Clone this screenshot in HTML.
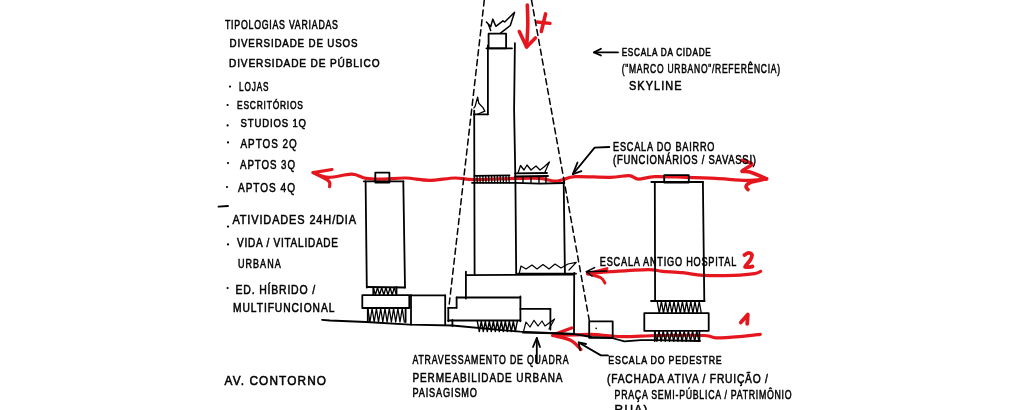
<!DOCTYPE html>
<html><head><meta charset="utf-8"><style>
html,body{margin:0;padding:0;background:#fff;}
svg{display:block;}
text{font-family:"Liberation Sans",sans-serif;}
</style></head><body>
<svg width="1024" height="410" viewBox="0 0 1024 410">
<rect width="1024" height="410" fill="#fff"/>
<text transform="translate(225.0,28.9) scale(0.726,1)" x="0" y="0" font-size="12.1" font-weight="normal" fill="#000" stroke="#000" stroke-width="0.55" textLength="155.6" lengthAdjust="spacing">TIPOLOGIAS VARIADAS</text>
<text transform="translate(229.5,46.9) scale(0.848,1)" x="0" y="0" font-size="11.5" font-weight="normal" fill="#000" stroke="#000" stroke-width="0.55" textLength="151.0" lengthAdjust="spacing">DIVERSIDADE DE USOS</text>
<text transform="translate(229.0,66.7) scale(0.878,1)" x="0" y="0" font-size="11.5" font-weight="normal" fill="#000" stroke="#000" stroke-width="0.55" textLength="171.4" lengthAdjust="spacing">DIVERSIDADE DE PÚBLICO</text>
<circle cx="230" cy="86.6" r="1.1" fill="#000"/>
<text transform="translate(239.0,91.0) scale(0.677,1)" x="0" y="0" font-size="12.1" font-weight="normal" fill="#000" stroke="#000" stroke-width="0.55" textLength="43.6" lengthAdjust="spacing">LOJAS</text>
<circle cx="227.6" cy="105" r="1.1" fill="#000"/>
<text transform="translate(237.0,108.7) scale(0.733,1)" x="0" y="0" font-size="11.5" font-weight="normal" fill="#000" stroke="#000" stroke-width="0.55" textLength="90.0" lengthAdjust="spacing">ESCRITÓRIOS</text>
<circle cx="227.6" cy="125.4" r="1.1" fill="#000"/>
<text transform="translate(240.5,126.5) scale(0.828,1)" x="0" y="0" font-size="11.5" font-weight="normal" fill="#000" stroke="#000" stroke-width="0.55" textLength="79.1" lengthAdjust="spacing">STUDIOS 1Q</text>
<circle cx="228" cy="142.4" r="1.1" fill="#000"/>
<text transform="translate(240.5,147.7) scale(0.774,1)" x="0" y="0" font-size="12.8" font-weight="normal" fill="#000" stroke="#000" stroke-width="0.55" textLength="72.5" lengthAdjust="spacing">APTOS 2Q</text>
<circle cx="228" cy="163" r="1.1" fill="#000"/>
<text transform="translate(240.0,169.0) scale(0.759,1)" x="0" y="0" font-size="12.8" font-weight="normal" fill="#000" stroke="#000" stroke-width="0.55" textLength="72.5" lengthAdjust="spacing">APTOS 3Q</text>
<circle cx="227" cy="187" r="1.1" fill="#000"/>
<text transform="translate(238.0,191.8) scale(0.786,1)" x="0" y="0" font-size="12.8" font-weight="normal" fill="#000" stroke="#000" stroke-width="0.55" textLength="72.5" lengthAdjust="spacing">APTOS 4Q</text>
<path d="M218.5,206.6 L228.0,206.0" fill="none" stroke="#000" stroke-width="1.8" stroke-linecap="round" stroke-linejoin="round" />
<circle cx="228" cy="226.6" r="1.1" fill="#000"/>
<text transform="translate(232.4,223.7) scale(0.818,1)" x="0" y="0" font-size="13.4" font-weight="normal" fill="#000" stroke="#000" stroke-width="0.55" textLength="151.2" lengthAdjust="spacing">ATIVIDADES 24H/DIA</text>
<circle cx="228" cy="244.4" r="1.1" fill="#000"/>
<text transform="translate(237.0,247.4) scale(0.828,1)" x="0" y="0" font-size="12.1" font-weight="normal" fill="#000" stroke="#000" stroke-width="0.55" textLength="122.0" lengthAdjust="spacing">VIDA / VITALIDADE</text>
<text transform="translate(238.0,267.7) scale(0.745,1)" x="0" y="0" font-size="12.1" font-weight="normal" fill="#000" stroke="#000" stroke-width="0.55" textLength="57.3" lengthAdjust="spacing">URBANA</text>
<circle cx="227.6" cy="288" r="1.1" fill="#000"/>
<text transform="translate(235.6,293.9) scale(0.819,1)" x="0" y="0" font-size="12.8" font-weight="normal" fill="#000" stroke="#000" stroke-width="0.55" textLength="97.0" lengthAdjust="spacing">ED. HÍBRIDO /</text>
<text transform="translate(233.0,312.0) scale(0.847,1)" x="0" y="0" font-size="12.1" font-weight="normal" fill="#000" stroke="#000" stroke-width="0.55" textLength="119.7" lengthAdjust="spacing">MULTIFUNCIONAL</text>
<text transform="translate(224.6,384.5) scale(0.925,1)" x="0" y="0" font-size="12.8" font-weight="normal" fill="#000" stroke="#000" stroke-width="0.55" textLength="109.7" lengthAdjust="spacing">AV. CONTORNO</text>
<text transform="translate(412.4,363.9) scale(0.725,1)" x="0" y="0" font-size="12.1" font-weight="normal" fill="#000" stroke="#000" stroke-width="0.55" textLength="215.4" lengthAdjust="spacing">ATRAVESSAMENTO DE QUADRA</text>
<text transform="translate(412.4,381.6) scale(0.780,1)" x="0" y="0" font-size="12.8" font-weight="normal" fill="#000" stroke="#000" stroke-width="0.55" textLength="192.4" lengthAdjust="spacing">PERMEABILIDADE URBANA</text>
<text transform="translate(412.4,396.7) scale(0.757,1)" x="0" y="0" font-size="12.1" font-weight="normal" fill="#000" stroke="#000" stroke-width="0.55" textLength="85.3" lengthAdjust="spacing">PAISAGISMO</text>
<text transform="translate(621.7,55.8) scale(0.759,1)" x="0" y="0" font-size="10.8" font-weight="normal" fill="#000" stroke="#000" stroke-width="0.55" textLength="117.3" lengthAdjust="spacing">ESCALA DA CIDADE</text>
<text transform="translate(621.7,73.0) scale(0.665,1)" x="0" y="0" font-size="12.8" font-weight="normal" fill="#000" stroke="#000" stroke-width="0.55" textLength="238.2" lengthAdjust="spacing">("MARCO URBANO"/REFERÊNCIA)</text>
<text transform="translate(629.0,90.3) scale(0.816,1)" x="0" y="0" font-size="13.4" font-weight="normal" fill="#000" stroke="#000" stroke-width="0.55" textLength="64.3" lengthAdjust="spacing">SKYLINE</text>
<text transform="translate(613.0,150.7) scale(0.754,1)" x="0" y="0" font-size="12.1" font-weight="normal" fill="#000" stroke="#000" stroke-width="0.55" textLength="134.5" lengthAdjust="spacing">ESCALA DO BAIRRO</text>
<text transform="translate(613.0,163.9) scale(0.782,1)" x="0" y="0" font-size="12.1" font-weight="normal" fill="#000" stroke="#000" stroke-width="0.55" textLength="182.8" lengthAdjust="spacing">(FUNCIONÁRIOS / SAVASSI)</text>
<text transform="translate(599.8,266.2) scale(0.758,1)" x="0" y="0" font-size="12.1" font-weight="normal" fill="#000" stroke="#000" stroke-width="0.55" textLength="180.1" lengthAdjust="spacing">ESCALA ANTIGO HOSPITAL</text>
<text transform="translate(608.3,363.7) scale(0.765,1)" x="0" y="0" font-size="11.5" font-weight="normal" fill="#000" stroke="#000" stroke-width="0.55" textLength="148.2" lengthAdjust="spacing">ESCALA DO PEDESTRE</text>
<text transform="translate(607.0,383.4) scale(0.802,1)" x="0" y="0" font-size="12.8" font-weight="normal" fill="#000" stroke="#000" stroke-width="0.55" textLength="200.7" lengthAdjust="spacing">(FACHADA ATIVA / FRUIÇÃO /</text>
<text transform="translate(614.6,399.1) scale(0.688,1)" x="0" y="0" font-size="12.8" font-weight="normal" fill="#000" stroke="#000" stroke-width="0.55" textLength="257.3" lengthAdjust="spacing">PRAÇA SEMI-PÚBLICA / PATRIMÔNIO</text>
<text transform="translate(614.6,414.0) scale(0.923,1)" x="0" y="0" font-size="12.8" font-weight="normal" fill="#000" stroke="#000" stroke-width="0.55" textLength="35.6" lengthAdjust="spacing">RUA)</text>
<path d="M618.0,52.4 L594.0,52.4" fill="none" stroke="#000" stroke-width="1.8" stroke-linecap="round" stroke-linejoin="round" />
<path d="M601.0,48.8 L594.0,52.4 L601.0,55.5" fill="none" stroke="#000" stroke-width="1.8" stroke-linecap="round" stroke-linejoin="round" />
<path d="M609.3,147.0 L594.6,147.6 L572.8,174.2" fill="none" stroke="#000" stroke-width="1.8" stroke-linecap="round" stroke-linejoin="round" />
<path d="M577.5,162.5 L572.8,174.2 L581.4,171.1" fill="none" stroke="#000" stroke-width="1.8" stroke-linecap="round" stroke-linejoin="round" />
<path d="M608.0,355.4 L600.9,355.4 L578.7,342.5" fill="none" stroke="#000" stroke-width="1.8" stroke-linecap="round" stroke-linejoin="round" />
<path d="M580.0,350.0 L578.7,342.5 L586.0,344.0" fill="none" stroke="#000" stroke-width="1.8" stroke-linecap="round" stroke-linejoin="round" />
<path d="M536.8,362.4 L536.8,338.0" fill="none" stroke="#000" stroke-width="1.8" stroke-linecap="round" stroke-linejoin="round" />
<path d="M533.0,347.0 L536.8,338.0 L540.0,347.0" fill="none" stroke="#000" stroke-width="1.8" stroke-linecap="round" stroke-linejoin="round" />
<path d="M484.3,0.0 L449.0,306.0" fill="none" stroke="#000" stroke-width="1.5" stroke-linecap="round" stroke-linejoin="round" stroke-dasharray="6 4"/>
<path d="M531.5,0.0 L589.3,320.7" fill="none" stroke="#000" stroke-width="1.5" stroke-linecap="round" stroke-linejoin="round" stroke-dasharray="6 4"/>
<path d="M365.6,181.3 L366.8,287.5" fill="none" stroke="#000" stroke-width="1.8" stroke-linecap="round" stroke-linejoin="round" />
<path d="M403.3,181.3 L405.0,287.5" fill="none" stroke="#000" stroke-width="1.8" stroke-linecap="round" stroke-linejoin="round" />
<path d="M363.8,181.3 L403.5,181.3" fill="none" stroke="#000" stroke-width="1.8" stroke-linecap="round" stroke-linejoin="round" />
<path d="M375.3,172.6 L389.4,172.6 L389.4,182.5 L375.3,182.5 L375.3,172.6" fill="none" stroke="#000" stroke-width="1.8" stroke-linecap="round" stroke-linejoin="round" />
<path d="M367.0,287.0 L405.0,287.5" fill="none" stroke="#000" stroke-width="1.8" stroke-linecap="round" stroke-linejoin="round" />
<path d="M373.3,287.0 L373.3,295.0" fill="none" stroke="#000" stroke-width="1.8" stroke-linecap="round" stroke-linejoin="round" />
<path d="M396.5,287.0 L396.5,295.0" fill="none" stroke="#000" stroke-width="1.8" stroke-linecap="round" stroke-linejoin="round" />
<path d="M373.3,287.5 L375.4,295.0 L377.5,287.5 L379.6,295.0 L381.7,287.5 L383.8,295.0 L385.9,287.5 L388.0,295.0 L390.1,287.5 L392.2,295.0 L394.3,287.5 L396.4,295.0" fill="none" stroke="#000" stroke-width="1.3" stroke-linecap="round" stroke-linejoin="round" />
<path d="M362.3,295.2 L409.3,295.2 L409.3,308.0 L362.3,308.0 L362.3,295.2" fill="none" stroke="#000" stroke-width="1.8" stroke-linecap="round" stroke-linejoin="round" />
<path d="M367.8,308.5 L369.9,322.0 L372.1,308.5 L374.2,322.0 L376.4,308.5 L378.5,322.0 L380.7,308.5 L382.8,322.0 L385.0,308.5 L387.1,322.0 L389.3,308.5 L391.4,322.0 L393.6,308.5 L395.7,322.0 L397.9,308.5 L400.0,322.0 L402.2,308.5 L404.3,322.0" fill="none" stroke="#000" stroke-width="1.3" stroke-linecap="round" stroke-linejoin="round" />
<path d="M367.8,308.0 L367.8,322.0" fill="none" stroke="#000" stroke-width="1.8" stroke-linecap="round" stroke-linejoin="round" />
<path d="M405.6,308.0 L405.6,322.0" fill="none" stroke="#000" stroke-width="1.8" stroke-linecap="round" stroke-linejoin="round" />
<path d="M322.0,319.8 L330.0,320.5 L366.0,322.0 L410.0,324.6 L452.4,325.5 L520.0,331.7 L574.0,334.0 L591.6,337.0 L612.0,338.0 L624.4,341.3 L640.8,340.2 L654.8,340.2 L700.0,341.0" fill="none" stroke="#000" stroke-width="1.8" stroke-linecap="round" stroke-linejoin="round" />
<path d="M486.4,22.1 L490.7,26.8 L492.8,19.1 L495.8,26.3 L503.0,20.8 L504.7,22.0 L514.6,12.3 L510.3,25.5 L500.5,33.2" fill="none" stroke="#000" stroke-width="1.5" stroke-linecap="round" stroke-linejoin="round" />
<path d="M488.5,24.6 L490.7,30.6" fill="none" stroke="#000" stroke-width="1.5" stroke-linecap="round" stroke-linejoin="round" />
<path d="M488.6,33.7 L506.1,33.7 L506.1,48.3 L488.6,48.3 L488.6,33.7" fill="none" stroke="#000" stroke-width="1.8" stroke-linecap="round" stroke-linejoin="round" />
<path d="M486.4,48.3 L512.0,48.3" fill="none" stroke="#000" stroke-width="1.8" stroke-linecap="round" stroke-linejoin="round" />
<path d="M514.9,43.2 L514.1,110.0 L515.4,180.0 L516.2,273.7" fill="none" stroke="#000" stroke-width="1.8" stroke-linecap="round" stroke-linejoin="round" />
<path d="M487.9,45.4 L487.9,114.3" fill="none" stroke="#000" stroke-width="1.8" stroke-linecap="round" stroke-linejoin="round" />
<path d="M487.9,114.3 L473.9,114.3" fill="none" stroke="#000" stroke-width="1.8" stroke-linecap="round" stroke-linejoin="round" />
<path d="M473.9,108.0 L475.1,106.3 L477.6,97.2 L478.8,103.3 L483.0,107.6 L484.9,111.2 L478.0,114.0" fill="none" stroke="#000" stroke-width="1.3" stroke-linecap="round" stroke-linejoin="round" />
<path d="M474.2,110.6 L474.6,274.7" fill="none" stroke="#000" stroke-width="1.8" stroke-linecap="round" stroke-linejoin="round" />
<path d="M563.7,182.0 L564.9,273.0" fill="none" stroke="#000" stroke-width="1.8" stroke-linecap="round" stroke-linejoin="round" />
<path d="M472.0,182.8 L515.0,182.8 L540.0,183.6 L563.7,183.0" fill="none" stroke="#000" stroke-width="1.8" stroke-linecap="round" stroke-linejoin="round" />
<path d="M474.4,175.8 L509.5,175.3" fill="none" stroke="#000" stroke-width="1.8" stroke-linecap="round" stroke-linejoin="round" />
<path d="M477.0,175.8 L477.3,182.8" fill="none" stroke="#000" stroke-width="1.3" stroke-linecap="round" stroke-linejoin="round" />
<path d="M479.9,175.8 L480.2,182.8" fill="none" stroke="#000" stroke-width="1.3" stroke-linecap="round" stroke-linejoin="round" />
<path d="M482.8,175.8 L483.1,182.8" fill="none" stroke="#000" stroke-width="1.3" stroke-linecap="round" stroke-linejoin="round" />
<path d="M485.7,175.8 L486.0,182.8" fill="none" stroke="#000" stroke-width="1.3" stroke-linecap="round" stroke-linejoin="round" />
<path d="M488.6,175.8 L488.9,182.8" fill="none" stroke="#000" stroke-width="1.3" stroke-linecap="round" stroke-linejoin="round" />
<path d="M491.5,175.8 L491.8,182.8" fill="none" stroke="#000" stroke-width="1.3" stroke-linecap="round" stroke-linejoin="round" />
<path d="M494.4,175.8 L494.7,182.8" fill="none" stroke="#000" stroke-width="1.3" stroke-linecap="round" stroke-linejoin="round" />
<path d="M497.3,175.8 L497.6,182.8" fill="none" stroke="#000" stroke-width="1.3" stroke-linecap="round" stroke-linejoin="round" />
<path d="M500.2,175.8 L500.5,182.8" fill="none" stroke="#000" stroke-width="1.3" stroke-linecap="round" stroke-linejoin="round" />
<path d="M503.1,175.8 L503.4,182.8" fill="none" stroke="#000" stroke-width="1.3" stroke-linecap="round" stroke-linejoin="round" />
<path d="M506.0,175.8 L506.3,182.8" fill="none" stroke="#000" stroke-width="1.3" stroke-linecap="round" stroke-linejoin="round" />
<path d="M508.9,175.8 L509.2,182.8" fill="none" stroke="#000" stroke-width="1.3" stroke-linecap="round" stroke-linejoin="round" />
<path d="M515.0,173.4 L547.0,173.0" fill="none" stroke="#000" stroke-width="1.8" stroke-linecap="round" stroke-linejoin="round" />
<path d="M515.0,176.5 L548.0,176.0" fill="none" stroke="#000" stroke-width="1.8" stroke-linecap="round" stroke-linejoin="round" />
<path d="M523.0,176.5 L523.0,182.5" fill="none" stroke="#000" stroke-width="1.4" stroke-linecap="round" stroke-linejoin="round" />
<path d="M531.0,176.5 L531.0,182.5" fill="none" stroke="#000" stroke-width="1.4" stroke-linecap="round" stroke-linejoin="round" />
<path d="M539.0,176.5 L539.0,182.5" fill="none" stroke="#000" stroke-width="1.4" stroke-linecap="round" stroke-linejoin="round" />
<path d="M546.0,176.5 L546.0,182.5" fill="none" stroke="#000" stroke-width="1.4" stroke-linecap="round" stroke-linejoin="round" />
<path d="M518.0,173.0 L520.5,165.5 L524.0,170.0 L527.0,165.0 L531.0,170.0 L536.0,166.0 L540.0,170.0 L544.0,167.0 L549.4,162.0 L545.0,172.0" fill="none" stroke="#000" stroke-width="1.3" stroke-linecap="round" stroke-linejoin="round" />
<path d="M518.0,273.7 L576.0,273.7" fill="none" stroke="#000" stroke-width="1.8" stroke-linecap="round" stroke-linejoin="round" />
<path d="M519.3,273.0 L521.0,266.0 L526.0,269.0 L532.0,265.0 L537.0,269.0 L543.0,264.5 L549.0,269.0 L555.0,264.0 L561.0,268.0 L568.0,264.0 L576.3,262.3 L569.0,270.0" fill="none" stroke="#000" stroke-width="1.2" stroke-linecap="round" stroke-linejoin="round" />
<path d="M465.9,275.1 L573.2,274.7" fill="none" stroke="#000" stroke-width="1.8" stroke-linecap="round" stroke-linejoin="round" />
<path d="M574.2,273.0 L574.0,333.8" fill="none" stroke="#000" stroke-width="1.8" stroke-linecap="round" stroke-linejoin="round" />
<path d="M465.9,271.6 L465.9,298.5" fill="none" stroke="#000" stroke-width="1.8" stroke-linecap="round" stroke-linejoin="round" />
<path d="M456.6,297.5 L520.4,297.5" fill="none" stroke="#000" stroke-width="1.8" stroke-linecap="round" stroke-linejoin="round" />
<path d="M520.4,296.5 L520.4,321.3" fill="none" stroke="#000" stroke-width="1.8" stroke-linecap="round" stroke-linejoin="round" />
<path d="M448.3,320.5 L520.4,320.5" fill="none" stroke="#000" stroke-width="1.8" stroke-linecap="round" stroke-linejoin="round" />
<path d="M456.6,297.5 L456.6,307.8" fill="none" stroke="#000" stroke-width="1.8" stroke-linecap="round" stroke-linejoin="round" />
<path d="M448.3,307.8 L456.6,307.8" fill="none" stroke="#000" stroke-width="1.8" stroke-linecap="round" stroke-linejoin="round" />
<path d="M448.3,307.8 L448.3,321.3" fill="none" stroke="#000" stroke-width="1.8" stroke-linecap="round" stroke-linejoin="round" />
<path d="M445.2,295.4 L445.2,324.4" fill="none" stroke="#000" stroke-width="1.8" stroke-linecap="round" stroke-linejoin="round" />
<path d="M411.0,295.4 L445.2,295.4" fill="none" stroke="#000" stroke-width="1.8" stroke-linecap="round" stroke-linejoin="round" />
<path d="M411.0,295.0 L411.0,324.6" fill="none" stroke="#000" stroke-width="1.8" stroke-linecap="round" stroke-linejoin="round" />
<path d="M452.4,320.0 L452.4,326.0" fill="none" stroke="#000" stroke-width="1.8" stroke-linecap="round" stroke-linejoin="round" />
<path d="M520.4,308.9 L550.4,308.9" fill="none" stroke="#000" stroke-width="1.8" stroke-linecap="round" stroke-linejoin="round" />
<path d="M550.4,308.9 L550.4,329.6" fill="none" stroke="#000" stroke-width="1.8" stroke-linecap="round" stroke-linejoin="round" />
<path d="M477.3,321.3 L479.3,331.5 L481.3,321.3 L483.3,331.5 L485.3,321.3 L487.3,331.5 L489.3,321.3 L491.3,331.5 L493.3,321.3 L495.3,331.5 L497.3,321.3 L499.3,331.5 L501.3,321.3 L503.3,331.5 L505.3,321.3 L507.3,331.5 L509.3,321.3 L511.3,331.5 L513.3,321.3 L515.3,331.5 L517.3,321.3" fill="none" stroke="#000" stroke-width="1.4" stroke-linecap="round" stroke-linejoin="round" />
<path d="M523.5,331.7 L526.0,322.0 L530.0,327.0 L534.0,320.3 L538.0,326.0 L542.0,321.0 L545.0,326.0 L554.6,319.0 L549.0,329.0" fill="none" stroke="#000" stroke-width="1.2" stroke-linecap="round" stroke-linejoin="round" />
<path d="M523.0,332.7 L574.0,333.8" fill="none" stroke="#000" stroke-width="1.8" stroke-linecap="round" stroke-linejoin="round" />
<path d="M589.2,321.4 L612.7,321.4 L612.7,337.8 L589.2,337.8 L589.2,321.4" fill="none" stroke="#000" stroke-width="1.8" stroke-linecap="round" stroke-linejoin="round" />
<circle cx="596.2" cy="328.4" r="0.8" fill="#000"/>
<path d="M654.8,182.0 L655.1,301.0" fill="none" stroke="#000" stroke-width="1.8" stroke-linecap="round" stroke-linejoin="round" />
<path d="M702.9,182.0 L704.3,301.0" fill="none" stroke="#000" stroke-width="1.8" stroke-linecap="round" stroke-linejoin="round" />
<path d="M651.3,182.0 L703.0,182.0" fill="none" stroke="#000" stroke-width="1.8" stroke-linecap="round" stroke-linejoin="round" />
<path d="M664.2,175.2 L688.8,175.2 L688.8,182.5 L664.2,182.5 L664.2,175.2" fill="none" stroke="#000" stroke-width="1.8" stroke-linecap="round" stroke-linejoin="round" />
<path d="M651.0,301.0 L704.6,301.0" fill="none" stroke="#000" stroke-width="1.8" stroke-linecap="round" stroke-linejoin="round" />
<path d="M657.2,301.5 L659.3,313.2 L661.4,301.5 L663.5,313.2 L665.6,301.5 L667.7,313.2 L669.8,301.5 L671.9,313.2 L674.0,301.5 L676.1,313.2 L678.2,301.5 L680.3,313.2 L682.4,301.5 L684.5,313.2 L686.6,301.5 L688.7,313.2 L690.8,301.5 L692.9,313.2 L695.0,301.5 L697.1,313.2 L699.2,301.5 L701.3,313.2" fill="none" stroke="#000" stroke-width="1.3" stroke-linecap="round" stroke-linejoin="round" />
<path d="M644.3,313.2 L708.7,313.2 L708.7,330.8 L644.3,330.8 L644.3,313.2" fill="none" stroke="#000" stroke-width="1.8" stroke-linecap="round" stroke-linejoin="round" />
<path d="M654.8,331.0 L656.9,341.3 L659.0,331.0 L661.1,341.3 L663.2,331.0 L665.3,341.3 L667.4,331.0 L669.5,341.3 L671.6,331.0 L673.7,341.3 L675.8,331.0 L677.9,341.3 L680.0,331.0 L682.1,341.3 L684.2,331.0 L686.3,341.3 L688.4,331.0 L690.5,341.3 L692.6,331.0 L694.7,341.3 L696.8,331.0 L698.9,341.3" fill="none" stroke="#000" stroke-width="1.3" stroke-linecap="round" stroke-linejoin="round" />
<path d="M654.8,331.0 L654.8,341.0" fill="none" stroke="#000" stroke-width="1.8" stroke-linecap="round" stroke-linejoin="round" />
<path d="M699.4,331.0 L699.4,341.0" fill="none" stroke="#000" stroke-width="1.8" stroke-linecap="round" stroke-linejoin="round" />
<path d="M607.0,271.0 L586.4,271.7" fill="none" stroke="#000" stroke-width="1.5" stroke-linecap="round" stroke-linejoin="round" />
<path d="M594.6,267.6 L586.4,271.7 L592.0,276.0" fill="none" stroke="#000" stroke-width="1.5" stroke-linecap="round" stroke-linejoin="round" />
<g style="mix-blend-mode:multiply">
<path d="M313.2,172.6 C315.7,173.4 321.9,177.0 328.4,177.3 C334.8,177.6 345.6,174.0 351.9,174.2 C358.2,174.4 360.9,177.6 366.0,178.4 C371.1,179.2 375.7,179.2 382.3,179.1 C388.9,179.0 398.0,177.8 405.8,178.0 C413.6,178.2 421.0,180.3 429.2,180.3 C437.4,180.3 447.6,178.1 455.0,178.0 C462.4,177.9 463.5,179.5 473.7,179.6 C483.9,179.7 504.9,178.6 516.0,178.4 C527.0,178.2 533.7,177.9 540.0,178.4 C546.3,178.9 550.1,181.0 554.0,181.2 C557.9,181.4 559.9,180.4 563.4,179.6 C566.9,178.8 567.4,177.0 575.2,176.6 C583.0,176.2 601.3,177.5 610.3,177.3 C619.3,177.1 624.3,175.3 629.0,175.6 C633.7,175.9 634.1,178.9 638.4,179.1 C642.7,179.3 647.0,176.9 654.8,176.6 C662.6,176.3 675.1,177.0 685.3,177.3 C695.5,177.6 705.6,177.9 715.8,178.4 C725.9,178.9 737.8,180.2 746.2,180.3 C754.6,180.4 762.9,179.1 766.2,178.9" fill="none" stroke="#e5161e" stroke-width="3.2" stroke-linecap="round" stroke-linejoin="round" />
<path d="M332.0,169.5 L313.2,172.6" fill="none" stroke="#e5161e" stroke-width="3.2" stroke-linecap="round" stroke-linejoin="round" />
<path d="M313.2,172.6 C315.7,174.0 325.7,178.5 328.4,180.8 C331.1,183.1 329.4,185.6 329.6,186.6" fill="none" stroke="#e5161e" stroke-width="3.2" stroke-linecap="round" stroke-linejoin="round" />
<path d="M742.0,160.3 C743.6,161.0 751.9,162.4 751.9,164.2 C751.9,166.0 742.3,169.7 742.0,171.0 C741.7,172.3 745.9,170.7 750.0,172.0 C754.1,173.3 763.8,177.7 766.5,178.8" fill="none" stroke="#e5161e" stroke-width="3.6" stroke-linecap="round" stroke-linejoin="round" />
<path d="M766.5,178.8 C763.8,179.5 753.4,181.4 750.0,182.7 C746.6,184.0 746.3,185.4 746.0,186.6 C745.7,187.8 747.7,189.1 748.0,189.6" fill="none" stroke="#e5161e" stroke-width="3.6" stroke-linecap="round" stroke-linejoin="round" />
<path d="M587.4,273.7 C591.3,273.4 600.9,272.4 611.0,271.7 C621.1,271.0 639.5,269.7 648.0,269.6 C656.5,269.5 656.5,270.8 662.3,271.3 C668.1,271.8 676.0,272.0 682.8,272.7 C689.6,273.4 694.8,274.9 703.3,275.4 C711.8,275.8 725.5,275.7 734.0,275.4 C742.5,275.1 750.1,274.4 754.6,273.7 C759.1,273.0 759.7,271.7 760.7,271.3" fill="none" stroke="#e5161e" stroke-width="3.2" stroke-linecap="round" stroke-linejoin="round" />
<path d="M607.0,268.6 L587.4,273.7" fill="none" stroke="#e5161e" stroke-width="3.0" stroke-linecap="round" stroke-linejoin="round" />
<path d="M587.4,273.7 C589.6,274.4 597.9,276.2 600.8,277.8 C603.7,279.4 604.2,282.1 604.9,283.0" fill="none" stroke="#e5161e" stroke-width="3.0" stroke-linecap="round" stroke-linejoin="round" />
<path d="M552.9,335.5 C556.6,335.4 568.8,335.2 575.2,335.0 C581.7,334.8 583.8,334.0 591.6,334.3 C599.4,334.6 611.1,336.4 622.0,336.6 C632.9,336.8 643.5,335.7 657.2,335.5 C670.9,335.3 694.2,335.1 704.0,335.5 C713.8,335.9 709.9,337.6 715.8,337.8 C721.7,338.0 731.8,337.2 739.2,336.6 C746.6,336.0 756.8,334.7 760.3,334.3" fill="none" stroke="#e5161e" stroke-width="3.2" stroke-linecap="round" stroke-linejoin="round" />
<path d="M571.6,328.0 L558.7,332.7 L552.9,335.5" fill="none" stroke="#e5161e" stroke-width="3.2" stroke-linecap="round" stroke-linejoin="round" />
<path d="M552.9,335.5 C555.8,336.3 565.8,337.9 570.5,340.2 C575.2,342.5 579.2,347.9 581.0,349.5" fill="none" stroke="#e5161e" stroke-width="3.2" stroke-linecap="round" stroke-linejoin="round" />
<path d="M527.3,5.1 C527.4,8.4 527.9,18.0 527.8,25.0 C527.7,32.0 526.8,43.2 526.6,46.9" fill="none" stroke="#e5161e" stroke-width="3.6" stroke-linecap="round" stroke-linejoin="round" />
<path d="M519.3,31.5 L526.6,46.9 L535.4,38.0" fill="none" stroke="#e5161e" stroke-width="3.6" stroke-linecap="round" stroke-linejoin="round" />
<path d="M545.6,13.9 L541.3,31.5" fill="none" stroke="#e5161e" stroke-width="3.6" stroke-linecap="round" stroke-linejoin="round" />
<path d="M536.9,22.0 L550.0,23.4" fill="none" stroke="#e5161e" stroke-width="3.4" stroke-linecap="round" stroke-linejoin="round" />
<path d="M744.5,255.0 C745.2,254.6 747.2,252.8 748.5,252.8 C749.8,252.8 751.8,253.7 752.0,255.0 C752.2,256.3 751.2,258.5 750.0,260.5 C748.8,262.5 744.6,266.0 745.0,267.0 C745.4,268.0 751.2,266.6 752.5,266.5" fill="none" stroke="#e5161e" stroke-width="3.8" stroke-linecap="round" stroke-linejoin="round" />
<path d="M740.8,322.5 L747.8,314.5 L747.2,323.8" fill="none" stroke="#e5161e" stroke-width="3.8" stroke-linecap="round" stroke-linejoin="round" />
</g>
</svg></body></html>
